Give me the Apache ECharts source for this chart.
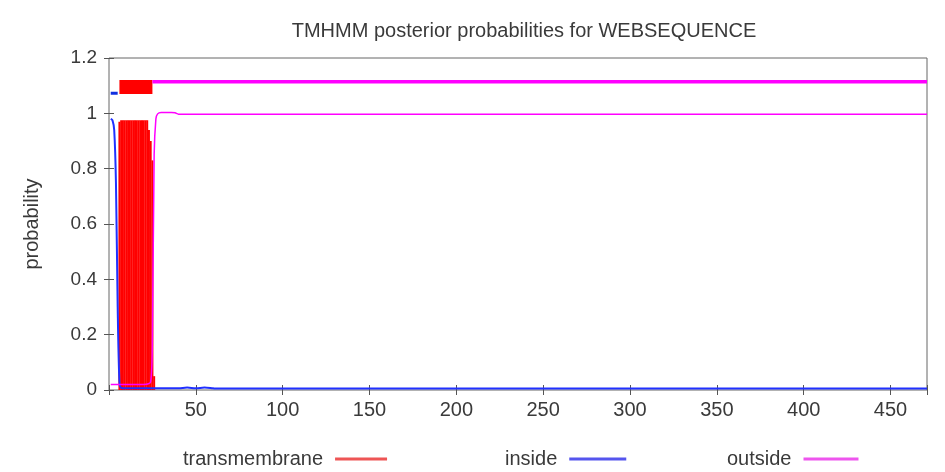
<!DOCTYPE html>
<html>
<head>
<meta charset="utf-8">
<script src="https://cdn.jsdelivr.net/npm/echarts@6/dist/echarts.min.js"></script>
<style>html,body{margin:0;padding:0;background:#fff}#c{width:945px;height:472px}</style>
</head>
<body>
<div id="c"></div>
<script>
// ---- data ----
var titleText = 'TMHMM posterior probabilities for WEBSEQUENCE';
var seqLength = 471;
var xTicks = [50, 100, 150, 200, 250, 300, 350, 400, 450];
var yTicks = [0, 0.2, 0.4, 0.6, 0.8, 1, 1.2];
// posterior probability of transmembrane per residue
var tmPos = [6, 7, 8, 9, 10, 11, 12, 13, 14, 15, 16, 17, 18, 19, 20, 21, 22, 23, 24, 25, 26];
var tmProb = [0.97, 0.975, 0.975, 0.975, 0.975, 0.975, 0.975, 0.975, 0.975, 0.975, 0.975, 0.975, 0.975, 0.975, 0.975, 0.975, 0.975, 0.94, 0.9, 0.83, 0.05];
// inside probability
var insidePos = [1, 2, 3, 4, 5, 6, 7, 10, 40, 45, 50, 55, 60, 62, 471];
var insideProb = [0.98, 0.975, 0.94, 0.75, 0.3, 0.03, 0.008, 0.006, 0.006, 0.009, 0.006, 0.009, 0.006, 0.005, 0.005];
// outside probability
var outsidePos = [1, 5, 10, 20, 24, 25, 26, 27, 28, 30, 36, 38, 40, 471];
var outsideProb = [0.02, 0.02, 0.02, 0.02, 0.03, 0.2, 0.85, 0.98, 0.998, 1.003, 1.003, 1.002, 0.997, 0.997];
// predicted topology band (start, end, level)
var insideBand = [[1, 1.073], [5, 1.073]];
var tmBand = [[6, 1.095], [25, 1.095]];
var outsideBand = [[25, 1.114], [471, 1.114]];
var legendNames = ['transmembrane', 'inside', 'outside'];

function zip(a, b) { return a.map(function (v, i) { return [v, b[i]]; }); }

var RED = '#ff0000', BLUE = '#2030ff', MAG = '#ff00ff';
var txt = '#3a3a3a';
var FONT = 'Liberation Sans';
var FS = 20;

var chart = echarts.init(document.getElementById('c'), null, {renderer: 'canvas'});
var axisCommonX = {
  type: 'value', min: 0, max: seqLength, interval: 50,
  splitLine: {show: false},
  axisLine: {show: false}
};
var axisCommonY = {
  type: 'value', min: 0, max: 1.2, interval: 0.2,
  splitLine: {show: false},
  axisLine: {show: false}
};
function legendAt(i, left, color, w) {
  return {
    data: [{name: legendNames[i], itemStyle: {color: color}}],
    left: left, top: 444, align: 'right', icon: 'rect', itemWidth: w, itemHeight: 3,
    textStyle: {fontFamily: FONT, fontSize: FS, color: txt, padding: [0, 7, 0, 0]}
  };
}
chart.setOption({
  animation: false,
  backgroundColor: '#fff',
  title: {
    text: titleText,
    left: 519, top: 16, textAlign: 'center',
    textStyle: {fontFamily: FONT, fontSize: FS, fontWeight: 'normal', color: txt}
  },
  grid: {left: 109, right: 18, top: 58, bottom: 82, show: true, borderColor: '#666', borderWidth: 1, backgroundColor: 'transparent'},
  legend: [
    legendAt(0, 178, '#ee5555', 52),
    legendAt(1, 500, '#5555ee', 57),
    legendAt(2, 722, '#ee55ee', 55)
  ],
  xAxis: [
    Object.assign({}, axisCommonX, {
      position: 'bottom',
      axisTick: {show: true, inside: true, length: 5, lineStyle: {color: '#555'}},
      axisLabel: {
        fontFamily: FONT, fontSize: FS, color: txt, margin: 10,
        formatter: function (v) { return xTicks.indexOf(v) >= 0 ? String(v) : ''; }
      }
    }),
    Object.assign({}, axisCommonX, {
      position: 'top',
      axisTick: {show: true, inside: true, length: 5, lineStyle: {color: '#555'}},
      axisLabel: {show: false}
    })
  ],
  yAxis: [
    Object.assign({}, axisCommonY, {
      position: 'left',
      name: 'probability', nameLocation: 'middle', nameRotate: 90, nameGap: 67,
      nameTextStyle: {fontFamily: FONT, fontSize: FS, color: txt},
      axisTick: {show: true, inside: true, length: 5, lineStyle: {color: '#555'}},
      axisLabel: {
        fontFamily: FONT, fontSize: 19, color: txt, margin: 12,
        formatter: function (v) {
          for (var i = 0; i < yTicks.length; i++) { if (Math.abs(yTicks[i] - v) < 1e-6) return String(yTicks[i]); }
          return '';
        }
      }
    }),
    Object.assign({}, axisCommonY, {
      position: 'right',
      axisTick: {show: true, inside: true, length: 5, lineStyle: {color: '#555'}},
      axisLabel: {show: false}
    })
  ],
  series: [
    {
      name: legendNames[0], type: 'bar', data: zip(tmPos, tmProb),
      barWidth: 2, itemStyle: {color: RED}, silent: true
    },
    {
      name: legendNames[1], type: 'line', data: zip(insidePos, insideProb),
      showSymbol: false, smooth: 0.3, lineStyle: {color: BLUE, width: 2}, itemStyle: {color: BLUE}, z: 3
    },
    {
      name: legendNames[2], type: 'line', data: zip(outsidePos, outsideProb),
      showSymbol: false, smooth: 0.3, lineStyle: {color: MAG, width: 1.5}, itemStyle: {color: MAG}, z: 3
    },
    {
      name: 'insideBand', type: 'line', data: insideBand, showSymbol: false,
      lineStyle: {color: '#1030e0', width: 3, cap: 'butt'}, z: 4
    },
    {
      name: 'tmBand', type: 'line', data: tmBand, showSymbol: false,
      lineStyle: {color: RED, width: 14, cap: 'butt'}, z: 4
    },
    {
      name: 'outsideBand', type: 'line', data: outsideBand, showSymbol: false,
      lineStyle: {color: MAG, width: 3.5, cap: 'butt'}, z: 4
    }
  ]
});
</script>
</body>
</html>
